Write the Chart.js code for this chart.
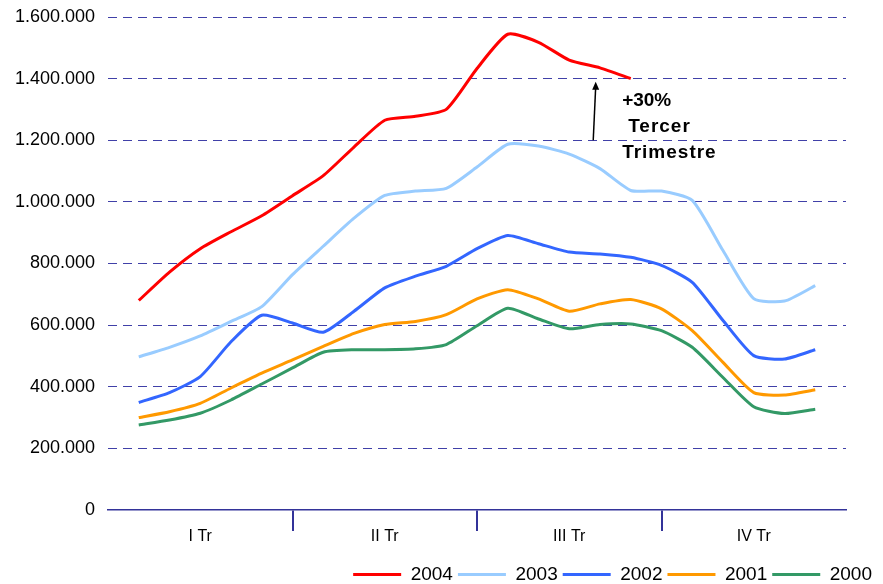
<!DOCTYPE html>
<html>
<head>
<meta charset="utf-8">
<script src="https://cdn.jsdelivr.net/npm/chart.js@4/dist/chart.umd.min.js"></script>
<style>
  html, body { margin: 0; padding: 0; background: #fff; }
  #wrap { width: 883px; height: 584px; }
</style>
</head>
<body>
<div id="wrap"><canvas id="salesChart" width="883" height="584"></canvas></div>
<script>
// Meses (posición en el eje, 0 = inicio de enero, 12 = fin de diciembre)
const months = [0.5, 1, 1.5, 2, 2.5, 3, 3.5, 4, 4.5, 5, 5.5, 6, 6.5, 7, 7.5, 8, 8.5, 9, 9.5, 10, 10.5, 11, 11.5];

// Series
const serie2004 = [680000, 772000, 848000, 903000, 955000, 1020000, 1085000, 1178000, 1265000, 1278000, 1300000, 1433000, 1544000, 1518000, 1460000, 1435000, 1400000];
const serie2003 = [497000, 528000, 565000, 612000, 660000, 764000, 856000, 947000, 1021000, 1035000, 1044000, 1113000, 1187000, 1181000, 1155000, 1108000, 1037000, 1035000, 1005000, 842000, 686000, 678000, 728000];
const serie2002 = [349000, 381000, 433000, 546000, 632000, 607000, 577000, 645000, 721000, 759000, 791000, 848000, 891000, 864000, 837000, 831000, 820000, 794000, 739000, 615000, 501000, 490000, 520000];
const serie2001 = [300000, 319000, 346000, 396000, 444000, 487000, 531000, 573000, 602000, 612000, 634000, 685000, 715000, 685000, 645000, 669000, 683000, 653000, 582000, 479000, 381000, 373000, 390000];
const serie2000 = [276000, 292000, 314000, 357000, 409000, 461000, 512000, 520000, 520000, 523000, 537000, 598000, 655000, 620000, 588000, 602000, 604000, 582000, 528000, 430000, 335000, 313000, 327000];

// Trimestres
const quarterLabels = ['I Tr', 'II Tr', 'III Tr', 'IV Tr'];
const yTicks = [0, 200000, 400000, 600000, 800000, 1000000, 1200000, 1400000, 1600000];

const NAVY = '#4040a8';

function formatNumber(num) {
    return String(num).replace(/\B(?=(\d{3})+(?!\d))/g, '.');
}

function toPoints(values) {
    return values.map((v, i) => ({ x: months[i], y: v }));
}

function makeDataset(label, values, color) {
    return {
        label: label,
        data: toPoints(values),
        borderColor: color,
        backgroundColor: color,
        borderWidth: 3,
        pointRadius: 0,
        tension: 0.2,
        borderJoinStyle: 'round',
        fill: false
    };
}

// Flecha y texto "+30% Tercer Trimestre"
const annotationPlugin = {
    id: 'annotation',
    afterDatasetsDraw(chart) {
        const ctx = chart.ctx;
        const x = chart.scales.x;
        const y = chart.scales.y;
        const x0 = x.getPixelForValue(7.89), y0 = y.getPixelForValue(1200000);
        const x1 = x.getPixelForValue(7.93), y1 = y.getPixelForValue(1400000) + 3;
        ctx.save();
        ctx.strokeStyle = '#000';
        ctx.fillStyle = '#000';
        ctx.lineWidth = 1.5;
        ctx.beginPath();
        ctx.moveTo(x0, y0);
        ctx.lineTo(x1, y1 + 5);
        ctx.stroke();
        ctx.beginPath();
        ctx.moveTo(x1, y1);
        ctx.lineTo(x1 - 3.5, y1 + 8);
        ctx.lineTo(x1 + 3.5, y1 + 8);
        ctx.closePath();
        ctx.fill();

        const tx = x.getPixelForValue(8.36);
        ctx.font = 'bold 19px "Liberation Sans", Arial, sans-serif';
        ctx.textBaseline = 'middle';
        ctx.textAlign = 'left';
        ctx.fillText('+30%', tx, 101);
        ctx.letterSpacing = '1px';
        ctx.fillText('Tercer', tx + 6, 127);
        ctx.fillText('Trimestre', tx, 153);
        ctx.restore();
    }
};

const ctx = document.getElementById('salesChart').getContext('2d');
const salesChart = new Chart(ctx, {
    type: 'line',
    data: {
        datasets: [
            makeDataset('2004', serie2004, '#ff0000'),
            makeDataset('2003', serie2003, '#99ccff'),
            makeDataset('2002', serie2002, '#3366ff'),
            makeDataset('2001', serie2001, '#ff9900'),
            makeDataset('2000', serie2000, '#339966')
        ]
    },
    options: {
        responsive: false,
        animation: false,
        devicePixelRatio: 1,
        layout: {
            padding: { top: 17, right: 6, bottom: -10, left: 0 }
        },
        plugins: {
            tooltip: { enabled: false },
            legend: {
                position: 'bottom',
                align: 'end',
                labels: {
                    color: '#000',
                    font: { family: '"Liberation Sans", Arial, sans-serif', size: 19 },
                    boxWidth: 48,
                    boxHeight: 3,
                    padding: 5,
                    generateLabels(chart) {
                        return chart.data.datasets.map((ds, i) => ({
                            text: ds.label,
                            fillStyle: ds.borderColor,
                            strokeStyle: ds.borderColor,
                            lineWidth: 0,
                            fontColor: '#000',
                            datasetIndex: i
                        }));
                    }
                }
            }
        },
        scales: {
            x: {
                type: 'linear',
                min: 0,
                max: 12,
                afterBuildTicks(scale) {
                    scale.ticks = [0, 1.5, 3, 4.5, 6, 7.5, 9, 10.5, 12].map(v => ({ value: v }));
                },
                afterFit(scale) {
                    scale.height = 50;
                    scale.paddingLeft = 0;
                    scale.paddingRight = 0;
                },
                ticks: {
                    autoSkip: false,
                    maxRotation: 0,
                    padding: -4,
                    color: '#000',
                    font: { family: '"Liberation Sans", Arial, sans-serif', size: 16 },
                    callback(value) {
                        const idx = [1.5, 4.5, 7.5, 10.5].indexOf(value);
                        return idx >= 0 ? quarterLabels[idx] : '';
                    }
                },
                grid: {
                    drawOnChartArea: false,
                    drawTicks: true,
                    tickLength: 21,
                    lineWidth: 2,
                    color(c) {
                        return [3, 6, 9].includes(c.tick && c.tick.value) ? '#333399' : 'rgba(0,0,0,0)';
                    }
                },
                border: { display: true, color: '#333399', width: 1.5 }
            },
            y: {
                min: 0,
                max: 1600000,
                afterBuildTicks(scale) {
                    scale.ticks = yTicks.map(v => ({ value: v }));
                },
                afterFit(scale) {
                    scale.width = 108;
                    scale.paddingTop = 0;
                    scale.paddingBottom = 0;
                },
                ticks: {
                    padding: 13,
                    color: '#000',
                    font: { family: '"Liberation Sans", Arial, sans-serif', size: 18 },
                    callback(value) {
                        return formatNumber(value);
                    }
                },
                grid: {
                    drawTicks: false,
                    lineWidth: 1,
                    color(c) {
                        return c.tick && c.tick.value === 0 ? 'rgba(0,0,0,0)' : NAVY;
                    }
                },
                border: { display: false, dash: [9, 6] }
            },
            yR: {
                position: 'right',
                display: true,
                grid: { display: false },
                border: { display: false },
                ticks: { display: false },
                afterFit(scale) {
                    scale.width = 31;
                    scale.paddingTop = 0;
                    scale.paddingBottom = 0;
                }
            }
        }
    },
    plugins: [annotationPlugin]
});
</script>
</body>
</html>
